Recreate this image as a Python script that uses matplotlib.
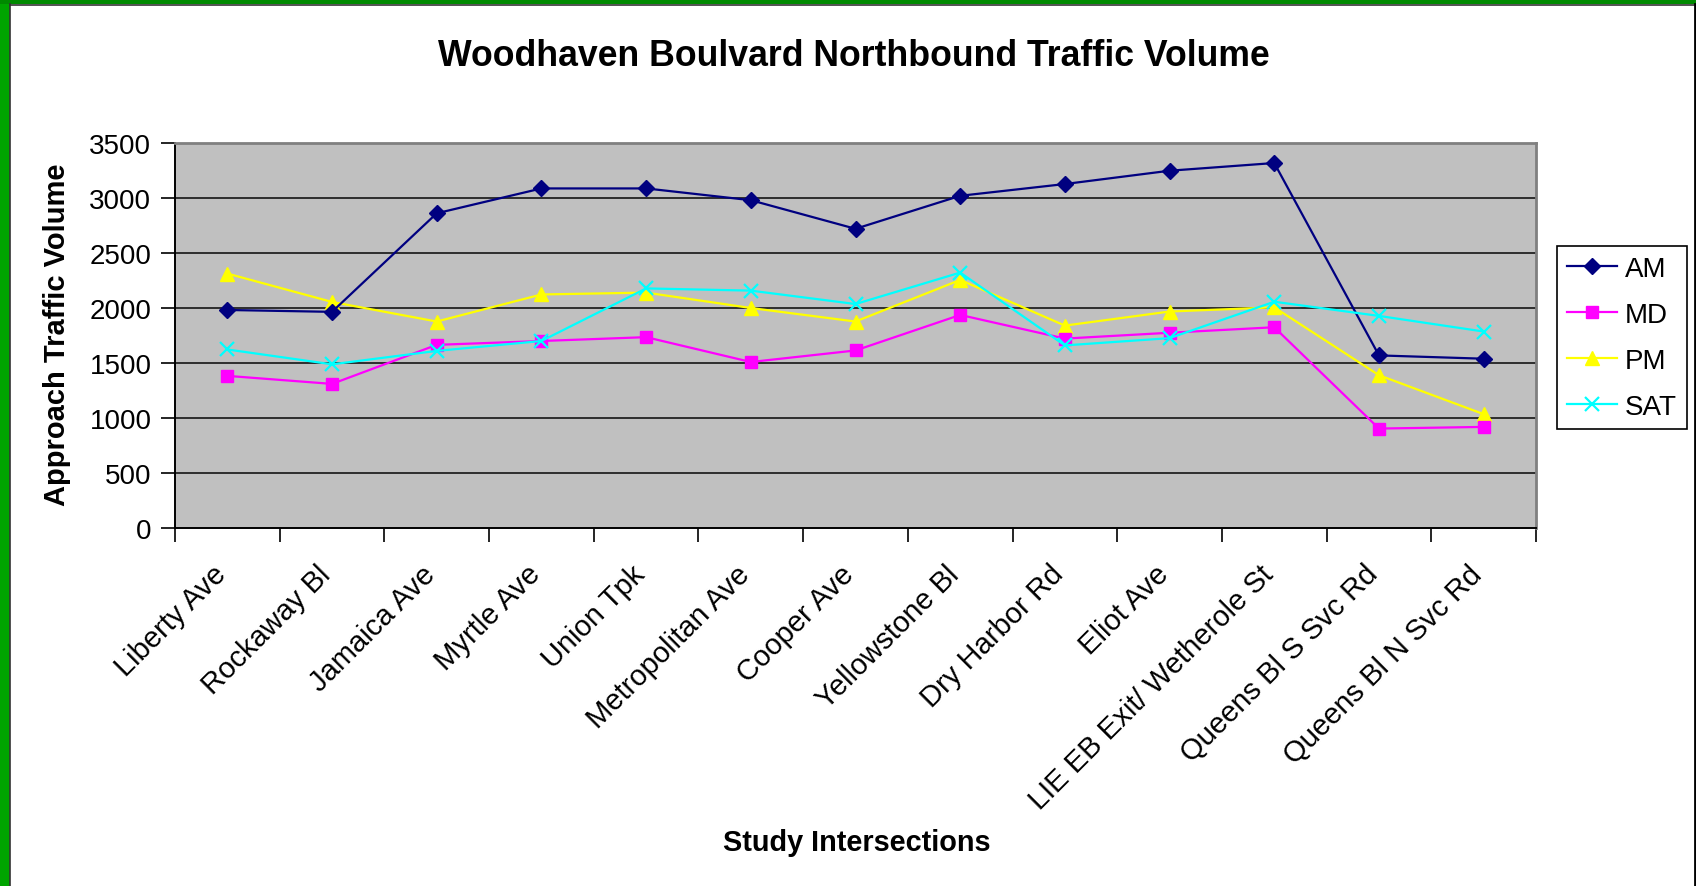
import matplotlib
matplotlib.use("Agg")
import matplotlib.pyplot as plt
from matplotlib.patches import Rectangle
import numpy as np

plt.rcParams['font.family'] = ['Liberation Sans', 'DejaVu Sans']

categories = ["Liberty Ave", "Rockaway Bl", "Jamaica Ave", "Myrtle Ave", "Union Tpk",
              "Metropolitan Ave", "Cooper Ave", "Yellowstone Bl", "Dry Harbor Rd",
              "Eliot Ave", "LIE EB Exit/ Wetherole St", "Queens Bl S Svc Rd",
              "Queens Bl N Svc Rd"]
am = [1982, 1965, 2861, 3087, 3087, 2980, 2720, 3020, 3127, 3248, 3318, 1569, 1539]
md = [1383, 1310, 1665, 1700, 1735, 1509, 1614, 1937, 1722, 1775, 1825, 904, 919]
pm = [2313, 2055, 1877, 2123, 2140, 2000, 1877, 2255, 1840, 1968, 2006, 1389, 1035]
sat = [1623, 1488, 1610, 1700, 2178, 2158, 2036, 2322, 1660, 1726, 2057, 1928, 1786]
yticks = [0, 500, 1000, 1500, 2000, 2500, 3000, 3500]

W, H = 1696, 887
fig = plt.figure(figsize=(W / 100, H / 100), dpi=100)
fig.patch.set_facecolor('white')

# green slide border
fig.patches.append(Rectangle((0, 0), 10 / W, 1, transform=fig.transFigure,
                             facecolor='#00A400', edgecolor='none', zorder=0))
fig.patches.append(Rectangle((0, 1 - 5 / H), 1, 5 / H, transform=fig.transFigure,
                             facecolor='#008A00', edgecolor='none', zorder=0))
fig.lines.append(plt.Line2D([10 / W, 10 / W], [0, 1 - 5 / H], transform=fig.transFigure,
                            color='#333333', lw=1.2))
fig.lines.append(plt.Line2D([10 / W, 1], [1 - 6 / H, 1 - 6 / H], transform=fig.transFigure,
                            color='#333333', lw=1.2))
fig.lines.append(plt.Line2D([1 - 1.5 / W, 1 - 1.5 / W], [0, 1 - 5 / H], transform=fig.transFigure,
                            color='black', lw=2))

left, right, top, bottom = 175, 1536, 144, 529
ax = fig.add_axes([left / W, 1 - bottom / H, (right - left) / W, (bottom - top) / H])
ax.set_facecolor('#C0C0C0')

x = np.arange(len(categories))
ax.plot(x, am, color='#000080', marker='D', markersize=8.5, lw=1.6, label='AM', zorder=5)
ax.plot(x, md, color='#FF00FF', marker='s', markersize=9, lw=1.6, label='MD', zorder=4)
ax.plot(x, pm, color='#FFFF00', marker='^', markersize=10.5, lw=1.6, label='PM', zorder=3)
ax.plot(x, sat, color='#00FFFF', marker='x', markersize=10, mew=1.6, lw=1.6, label='SAT', zorder=6)

ax.set_xlim(-0.5, len(categories) - 0.5)
ax.set_ylim(0, 3500)
ax.set_yticks(yticks)
ax.set_yticklabels([str(v) for v in yticks], fontsize=20)
for v in yticks[1:-1]:
    ax.axhline(v, color='#222222', lw=1.3, zorder=1)

ax.set_xticks(np.arange(-0.5, len(categories), 1.0))
ax.set_xticklabels([])
ax.set_xticks(x, minor=True)
ax.set_xticklabels(categories, minor=True, rotation=45, ha='right', va='baseline',
                   rotation_mode='anchor', fontsize=21)
ax.tick_params(axis='x', which='minor', length=0, pad=34)
ax.tick_params(axis='x', which='major', length=10, width=1.2, direction='out', color='black')
ax.tick_params(axis='y', length=10, width=1.2, direction='out', pad=7, color='black')

for s in ['top', 'right']:
    ax.spines[s].set_color('#808080')
    ax.spines[s].set_linewidth(2)
for s in ['left', 'bottom']:
    ax.spines[s].set_color('black')
    ax.spines[s].set_linewidth(1.4)

fig.text(854 / W, 1 - 56 / H, 'Woodhaven Boulvard Northbound Traffic Volume',
         ha='center', va='center', fontsize=25.7, fontweight='bold')
fig.text(57 / W, 1 - 335 / H, 'Approach Traffic Volume', rotation=90,
         ha='center', va='center', fontsize=21, fontweight='bold')
fig.text(857 / W, 1 - 843 / H, 'Study Intersections',
         ha='center', va='center', fontsize=20.8, fontweight='bold')

leg = ax.legend(loc='upper left', bbox_to_anchor=(1557 / W, 1 - 247 / H),
                bbox_transform=fig.transFigure, fontsize=20, frameon=True,
                fancybox=False, edgecolor='black', framealpha=1,
                handlelength=1.8, handletextpad=0.3, labelspacing=0.72,
                borderpad=0.35, borderaxespad=0)
leg.get_frame().set_linewidth(1.2)

fig.savefig('out.png', dpi=100)
